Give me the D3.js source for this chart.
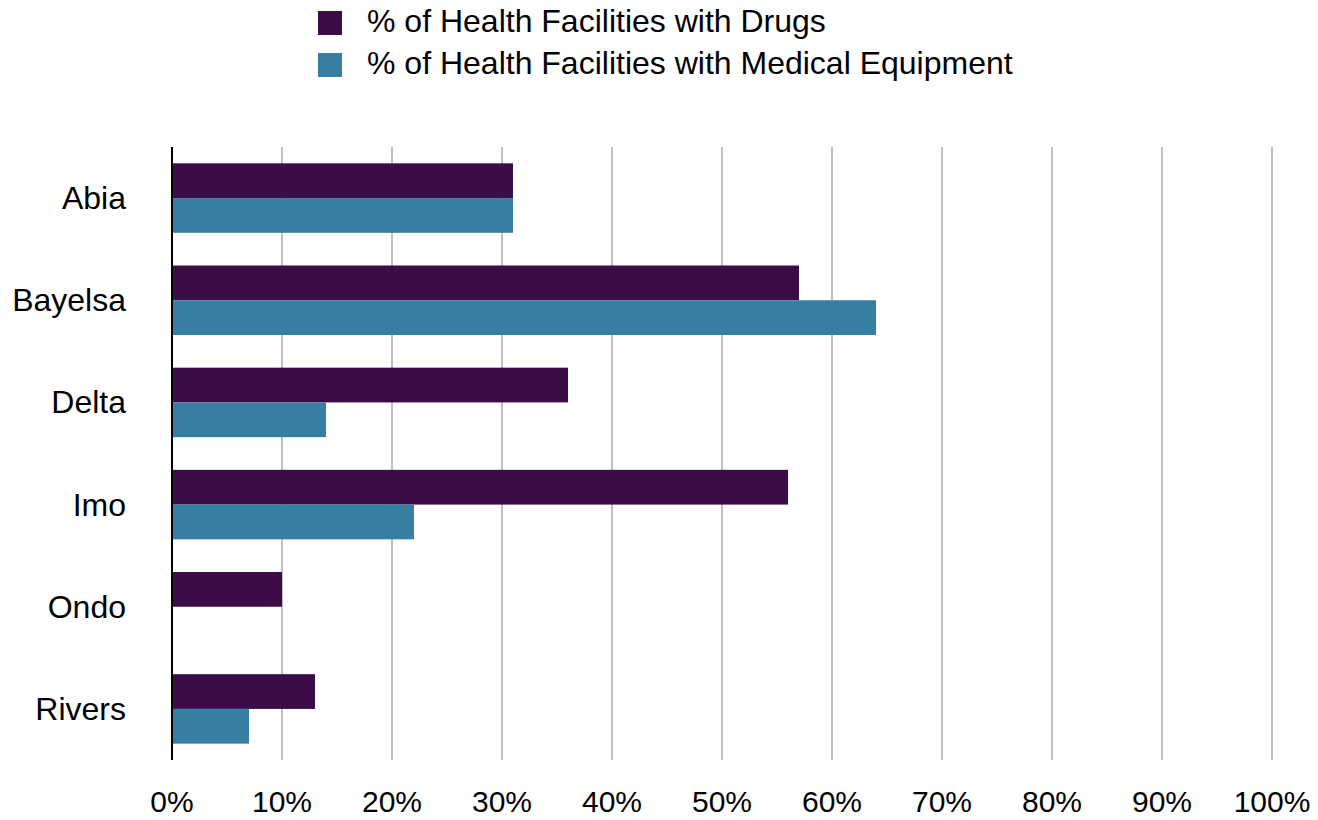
<!DOCTYPE html>
<html lang="en">
<head>
  <meta charset="UTF-8" />
  <title>Health Facilities</title>
  <script src="https://d3js.org/d3.v7.min.js"></script>
  <style>
    body { margin: 0; background: #fff; }
    text { font-family: "Liberation Sans", Arial, sans-serif; }
  </style>
</head>
<body>
  <svg id="chart" width="1318" height="820"></svg>

  <script>
    const states = ["Abia", "Bayelsa", "Delta", "Imo", "Ondo", "Rivers"];
    const seriesNames = ["% of Health Facilities with Drugs", "% of Health Facilities with Medical Equipment"];
    const drugs = [31, 57, 36, 56, 10, 13];
    const equipment = [31, 64, 14, 22, 0, 7];
    const xTicks = [0, 10, 20, 30, 40, 50, 60, 70, 80, 90, 100];
    const colors = ["#3b0c48", "#367fa2"];

    const svg = d3.select("#chart");
    const plotLeft = 172, plotRight = 1272, plotTop = 147, plotBottom = 760;

    const x = d3.scaleLinear().domain([0, 100]).range([plotLeft, plotRight]);
    const y = d3.scaleBand().domain(states).range([plotTop, plotBottom]).paddingInner(0.32).paddingOuter(0.16);
    const y2 = d3.scaleBand().domain([0, 1]).range([0, y.bandwidth()]);

    // grid
    svg.append("g")
      .selectAll("line")
      .data(xTicks.slice(1))
      .join("line")
      .attr("x1", d => x(d)).attr("x2", d => x(d))
      .attr("y1", plotTop).attr("y2", plotBottom)
      .attr("stroke", "#bfbfbf")
      .attr("stroke-width", 2);

    // bars
    const series = [drugs, equipment];
    series.forEach((vals, s) => {
      svg.append("g")
        .selectAll("rect")
        .data(vals)
        .join("rect")
        .attr("x", x(0))
        .attr("y", (d, i) => y(states[i]) + y2(s))
        .attr("width", d => x(d) - x(0))
        .attr("height", y2.bandwidth())
        .attr("fill", colors[s]);
    });

    // axis line
    svg.append("line")
      .attr("x1", x(0)).attr("x2", x(0))
      .attr("y1", plotTop).attr("y2", plotBottom)
      .attr("stroke", "#000")
      .attr("stroke-width", 2);

    // x tick labels
    svg.append("g")
      .selectAll("text")
      .data(xTicks)
      .join("text")
      .attr("x", d => x(d))
      .attr("y", 812)
      .attr("text-anchor", "middle")
      .attr("font-size", 30)
      .text(d => d + "%");

    // category labels
    svg.append("g")
      .selectAll("text")
      .data(states)
      .join("text")
      .attr("x", 126)
      .attr("y", d => y(d) + y.bandwidth() / 2 + 11)
      .attr("text-anchor", "end")
      .attr("font-size", 32)
      .text(d => d);

    // legend
    const legend = svg.append("g")
      .selectAll("g")
      .data(seriesNames)
      .join("g")
      .attr("transform", (d, i) => `translate(318, ${11 + i * 42})`);
    legend.append("rect")
      .attr("width", 24).attr("height", 24)
      .attr("fill", (d, i) => colors[i]);
    legend.append("text")
      .attr("x", 49)
      .attr("y", 21)
      .attr("font-size", 32)
      .text(d => d);
  </script>
</body>
</html>
